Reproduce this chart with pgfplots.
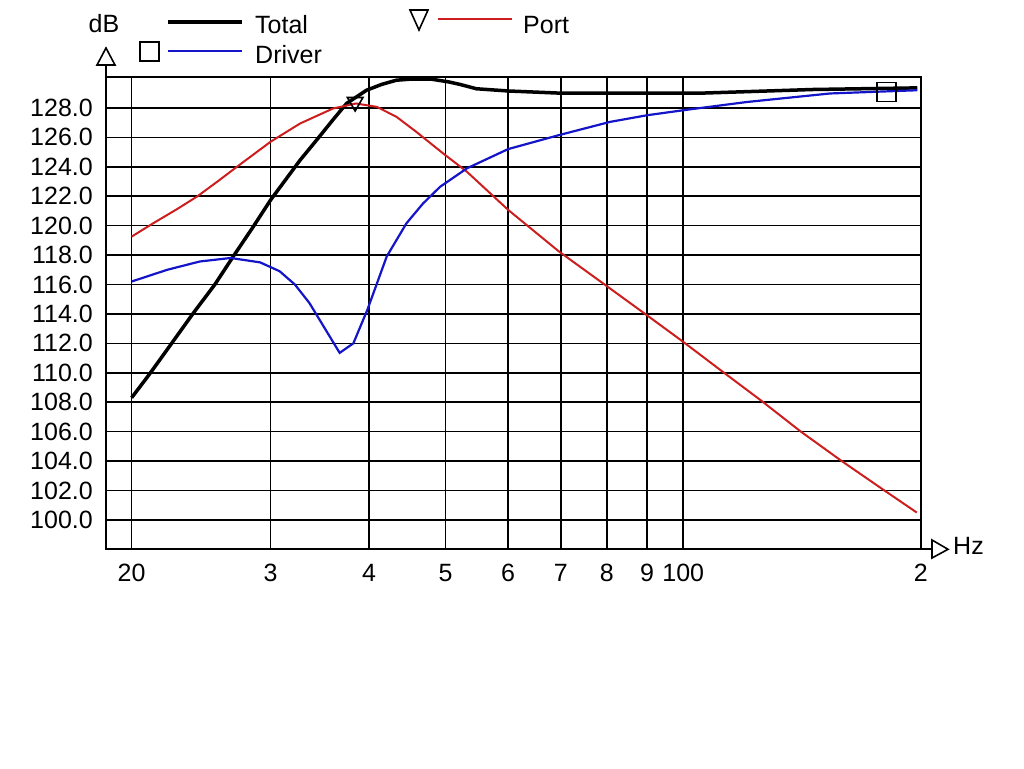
\documentclass[border=0pt]{standalone}
\usepackage{fontspec}
\setmainfont{Liberation Sans}
\usepackage{pgfplots}
\pgfplotsset{compat=1.18}
\definecolor{tred}{RGB}{204,30,30}
\definecolor{tblue}{RGB}{20,20,200}
\begin{document}
\begin{tikzpicture}
\path[use as bounding box] (-106pt,-218.7pt) rectangle (918pt,549.3pt);
\begin{axis}[
  scale only axis,
  width=814.7pt, height=472.3pt,
  xmode=log,
  xmin=18.56, xmax=200,
  ymin=98, ymax=130.1,
  xtick={20,30,40,50,60,70,80,90,100,200},
  xticklabels={20,3,4,5,6,7,8,9,100,2},
  ytick={100,102,104,106,108,110,112,114,116,118,120,122,124,126,128},
  yticklabels={100.0,102.0,104.0,106.0,108.0,110.0,112.0,114.0,116.0,118.0,120.0,122.0,124.0,126.0,128.0},
  minor xtick={}, 
  major tick length=0pt,
  grid=major,
  major grid style={black, line width=1.6pt},
  axis line style={black, line width=1.8pt},
  tick label style={font=\fontsize{25}{30}\selectfont, inner sep=0pt},
  xticklabel style={anchor=center, yshift=-23.5pt},
  yticklabel style={anchor=east, xshift=-13pt},
]
% Total
\addplot[black, line width=3.5pt] coordinates {
(20,108.3) (21,109.8) (22,111.3) (23.95,114.06) (25.5,116.0) (26.9,117.9) (28.5,119.9) (30,121.74)
(32.7,124.45) (34.3,125.8) (36,127.2) (37.45,128.3) (39.7,129.2) (41.5,129.6) (43.3,129.88)
(45,129.95) (48,129.95) (50.4,129.77) (52.1,129.6) (54.7,129.3) (60,129.15) (70,129.0)
(105,129.0) (146,129.25) (198,129.36)};
% Port
\addplot[tred, line width=2pt] coordinates {
(20,119.25) (21.3,120.16) (22.8,121.1) (24.2,121.97) (25.7,123.0) (27.2,124.0) (30,125.7)
(32.7,126.94) (36,127.96) (38.5,128.3) (40.9,128.07) (43.3,127.4) (45.9,126.37) (49.65,124.9)
(53.2,123.66) (60,121.07) (69.6,118.24) (79.6,115.98) (90,113.9) (100,112.1) (112,110.1)
(125.8,108.07) (140.7,106.03) (158.8,104.0) (180.2,101.97) (197.7,100.5)};
% Driver
\addplot[tblue, line width=2.2pt] coordinates {
(20,116.2) (22.2,117.0) (24.4,117.56) (26.7,117.8) (29.1,117.5) (30.8,116.9) (32.2,116.0)
(33.6,114.74) (36.7,111.35) (38.2,112.0) (39.8,114.28) (41,116.2) (42.1,117.9) (44.6,120.16)
(46.8,121.5) (49.2,122.64) (53.2,123.89) (60,125.2) (69.6,126.15) (80.8,127.05) (90,127.5)
(100,127.84) (120.4,128.4) (153.5,128.98) (198,129.2)};
% cursor markers
\addplot[only marks, mark=triangle, mark size=9pt, mark options={rotate=180, black, line width=1.6pt, fill=none}] coordinates {(38.4,128.4)};
\addplot[only marks, mark=square, mark size=9.5pt, mark options={black, line width=1.8pt, fill=none}] coordinates {(181,129.08)};
\end{axis}
% axis arrows and labels
\draw[black, line width=1.8pt] (0,472.3pt) -- (0,484.3pt);
\draw[black, line width=1.6pt, fill=white] (-9pt,484.3pt) -- (9pt,484.3pt) -- (0,501.3pt) -- cycle;
\node[font=\fontsize{25}{30}\selectfont, inner sep=0pt] at (-2pt,525.3pt) {dB};
\draw[black, line width=1.8pt] (814.7pt,0) -- (826pt,0);
\draw[black, line width=1.6pt, fill=white] (826pt,9.3pt) -- (826pt,-8.7pt) -- (842pt,0) -- cycle;
\node[font=\fontsize{25}{30}\selectfont, inner sep=0pt, anchor=west] at (847pt,3.3pt) {Hz};
% legend
\draw[black, line width=4pt] (62.3pt,527.6pt) -- (136.3pt,527.6pt);
\node[font=\fontsize{25}{30}\selectfont, inner sep=0pt, anchor=west] at (149pt,524.3pt) {Total};
\draw[tblue, line width=2.2pt] (62.3pt,498.6pt) -- (136.3pt,498.6pt);
\node[font=\fontsize{25}{30}\selectfont, inner sep=0pt, anchor=west] at (149pt,494.3pt) {Driver};
\draw[black, line width=1.8pt] (34pt,488.1pt) rectangle (53pt,507.1pt);
\draw[black, line width=1.6pt] (304pt,539.3pt) -- (322pt,539.3pt) -- (313pt,519.3pt) -- cycle;
\draw[tred, line width=2pt] (332pt,530pt) -- (406pt,530pt);
\node[font=\fontsize{25}{30}\selectfont, inner sep=0pt, anchor=west] at (417pt,524.3pt) {Port};
\end{tikzpicture}
\end{document}
